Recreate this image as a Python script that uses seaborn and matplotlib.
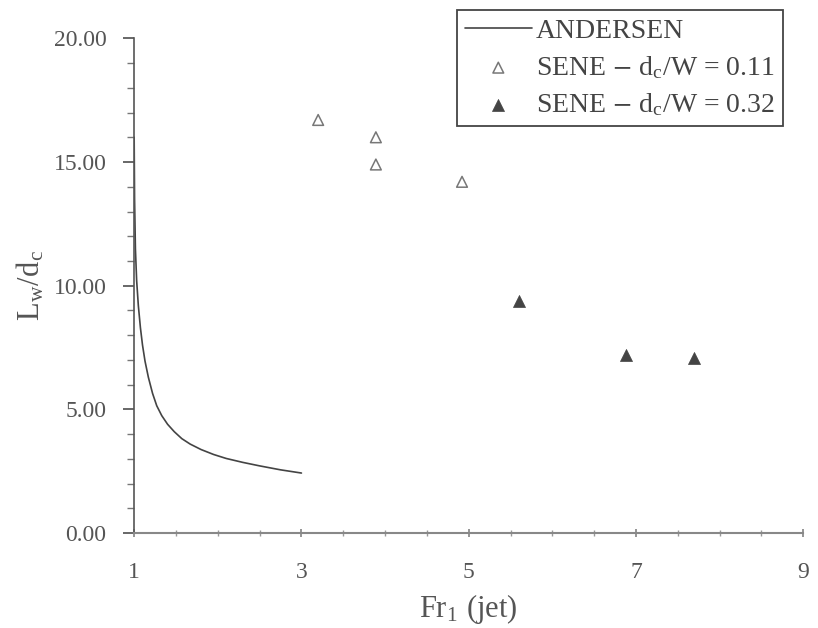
import pandas as pd
import matplotlib.pyplot as plt
import seaborn as sns
from matplotlib.ticker import MultipleLocator, FixedLocator, FormatStrFormatter

# Curva de Andersen
andersen_fr = [1.00, 1.005, 1.015, 1.03, 1.05, 1.075, 1.10, 1.13, 1.17, 1.22,
               1.27, 1.33, 1.40, 1.48, 1.57, 1.67, 1.80, 1.95, 2.10, 2.30,
               2.50, 2.75, 3.00]
andersen_lw = [16.0, 13.5, 11.5, 10.2, 9.2, 8.3, 7.6, 6.95, 6.3, 5.65,
               5.15, 4.75, 4.4, 4.1, 3.82, 3.6, 3.38, 3.18, 3.02, 2.86,
               2.72, 2.56, 2.43]

# Pontos SENE
sene011_fr = [3.20, 3.89, 3.89, 4.92]
sene011_lw = [16.7, 16.0, 14.9, 14.2]
sene032_fr = [5.60, 6.88, 7.69]
sene032_lw = [9.37, 7.19, 7.07]

X_TICKS = [1, 3, 5, 7, 9]

LABELS = ['ANDERSEN',
          r'SENE $-$ d$_\mathregular{c}$/W = 0.11',
          r'SENE $-$ d$_\mathregular{c}$/W = 0.32']

sns.set_theme(style="ticks")
plt.rcParams['font.family'] = ['Liberation Serif', 'DejaVu Serif']
plt.rcParams['mathtext.fontset'] = 'stix'

df_and = pd.DataFrame({'Fr': andersen_fr, 'Lw': andersen_lw})
df_011 = pd.DataFrame({'Fr': sene011_fr, 'Lw': sene011_lw})
df_032 = pd.DataFrame({'Fr': sene032_fr, 'Lw': sene032_lw})

fig = plt.figure(figsize=(8.18, 6.28), dpi=100)
ax = fig.add_axes([0.164, 0.151, 0.818, 0.788])

sns.lineplot(data=df_and, x='Fr', y='Lw', ax=ax, color='#444444',
             linewidth=1.2, sort=False, label=LABELS[0])
sns.scatterplot(data=df_011, x='Fr', y='Lw', ax=ax, marker='^', s=60,
                color='none', edgecolor='#777777', linewidth=1.1,
                label=LABELS[1])
sns.scatterplot(data=df_032, x='Fr', y='Lw', ax=ax, marker='^', s=75,
                color='#444444', edgecolor='#444444', linewidth=0.5,
                label=LABELS[2])

ax.set_xlim(1, 9)
ax.set_ylim(0, 20)
ax.xaxis.set_major_locator(FixedLocator(X_TICKS))
ax.xaxis.set_minor_locator(MultipleLocator(0.5))
ax.yaxis.set_major_locator(MultipleLocator(5))
ax.yaxis.set_minor_locator(MultipleLocator(1))
ax.yaxis.set_major_formatter(FormatStrFormatter('%.2f'))

sns.despine(ax=ax)
ax.spines['left'].set_color('#555555')
ax.spines['bottom'].set_color('#888888')
ax.spines['left'].set_linewidth(1.2)
ax.spines['bottom'].set_linewidth(1.5)

ax.tick_params(axis='y', which='major', direction='out', length=8,
               color='#555555', labelsize=17, labelcolor='#555555', pad=12)
ax.tick_params(axis='y', which='minor', direction='out', length=5,
               color='#777777')
ax.tick_params(axis='x', which='major', direction='inout', length=6,
               color='#888888', labelsize=17, labelcolor='#555555', pad=18)
ax.tick_params(axis='x', which='minor', direction='inout', length=4,
               color='#999999')

ax.set_xlabel(r'Fr$_\mathregular{1}$ (jet)', fontsize=22, color='#555555',
              labelpad=6)
ax.set_ylabel(r'L$_\mathregular{w}$/d$_\mathregular{c}$', fontsize=22,
              color='#555555', labelpad=5)

leg = ax.legend(loc='upper right', bbox_to_anchor=(783 / 818, 1 - 10 / 628),
                bbox_transform=fig.transFigure, fontsize=20, frameon=True,
                fancybox=False, framealpha=1, edgecolor='#444444',
                handlelength=2.4, handletextpad=0.15, borderpad=0.3,
                labelspacing=0.38, borderaxespad=0)
leg.get_frame().set_linewidth(1.3)
for txt in leg.get_texts():
    txt.set_color('#444444')

fig.savefig('out.png', dpi=100)
plt.close(fig)
